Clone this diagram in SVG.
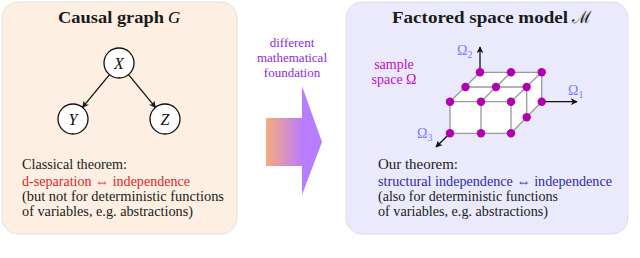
<svg xmlns="http://www.w3.org/2000/svg" width="640" height="258" viewBox="0 0 640 258">
<style>
.t{font-family:"Liberation Serif","DejaVu Serif",serif;font-size:14px;fill:#1a1a1a}
.title{font-family:"Liberation Serif","DejaVu Serif",serif;font-size:17px;font-weight:bold;fill:#1a1a1a}
.math{font-family:"Liberation Serif","DejaVu Serif",serif;font-style:italic}
.node circle{fill:#fff;stroke:#111;stroke-width:1.3}
.node text{font-family:"Liberation Serif","DejaVu Serif",serif;font-style:italic;font-size:16px;fill:#111;text-anchor:middle}
.edge{stroke:#111;stroke-width:1.3;fill:none}
.grid{stroke:#9a9a9a;stroke-width:1.3;fill:none}
.dot{fill:#b000b0}
.om{font-family:"Liberation Serif","DejaVu Serif",serif;font-size:14px;fill:#7a7aff}
</style>
<defs>
<marker id="ah" viewBox="0 0 10 10" refX="9" refY="5" markerWidth="7" markerHeight="7" markerUnits="userSpaceOnUse" orient="auto">
<path d="M0,0 L10,5 L0,10 L3,5 z" fill="#111"/>
</marker>
<linearGradient id="grad" x1="0" y1="0" x2="1" y2="0">
<stop offset="0" stop-color="#f8aa7c"/>
<stop offset="1" stop-color="#b87cff"/>
</linearGradient>
</defs>

<g id="panel-left">
<rect x="2" y="2" width="235" height="232" rx="16" fill="#fdf0e2" stroke="#e4e0dc" stroke-width="1"/>
<text class="title" x="58" y="23" textLength="106" lengthAdjust="spacingAndGlyphs">Causal graph</text>
<text class="math" x="168" y="23" font-size="17">G</text>
<text class="t" x="22" y="169" textLength="105" lengthAdjust="spacingAndGlyphs">Classical theorem:</text>
<text class="t" x="22" y="186" fill="#e3242b" style="fill:#e3242b" textLength="168" lengthAdjust="spacingAndGlyphs">d-separation ⇔ independence</text>
<text class="t" x="22" y="201" textLength="202" lengthAdjust="spacingAndGlyphs">(but not for deterministic functions</text>
<text class="t" x="22" y="216" textLength="171" lengthAdjust="spacingAndGlyphs">of variables, e.g. abstractions)</text>
</g>

<g id="connectors">
<line class="edge" x1="109.5" y1="74.6" x2="82.5" y2="107.4" marker-end="url(#ah)"/>
<line class="edge" x1="128.5" y1="74.6" x2="155.5" y2="107.4" marker-end="url(#ah)"/>
</g>

<g id="node-X" class="node"><circle cx="119" cy="63" r="15"/><text x="119" y="69">X</text></g>
<g id="node-Y" class="node"><circle cx="73" cy="119" r="15"/><text x="73" y="125">Y</text></g>
<g id="node-Z" class="node"><circle cx="165" cy="119" r="15"/><text x="165" y="125">Z</text></g>

<g id="middle-arrow">
<text font-family="Liberation Serif, DejaVu Serif, serif" font-size="13" fill="#8a2be2" text-anchor="middle"><tspan x="292" y="47">different</tspan><tspan x="292" y="62">mathematical</tspan><tspan x="292" y="77">foundation</tspan></text>
<rect x="266" y="118" width="37" height="48" fill="url(#grad)"/>
<path d="M302,86 L322,142 L302,195 z" fill="#b87cff"/>
</g>

<g id="panel-right">
<rect x="346" y="2" width="282" height="232" rx="16" fill="#eaeafc" stroke="#dcdce8" stroke-width="1"/>
<text class="title" x="392" y="23" textLength="176" lengthAdjust="spacingAndGlyphs">Factored space model</text>
<text x="572" y="23" font-family="DejaVu Serif, serif" font-size="17" fill="#1a1a1a">ℳ</text>
<text font-family="Liberation Serif, DejaVu Serif, serif" font-size="14" fill="#c010c0" text-anchor="middle"><tspan x="394" y="69">sample</tspan><tspan x="394" y="84">space Ω</tspan></text>
<text class="t" x="378" y="169" textLength="80" lengthAdjust="spacingAndGlyphs">Our theorem:</text>
<text class="t" x="378" y="186" style="fill:#2b2ba8" textLength="234" lengthAdjust="spacingAndGlyphs">structural independence ⇔ independence</text>
<text class="t" x="378" y="201" textLength="180" lengthAdjust="spacingAndGlyphs">(also for deterministic functions</text>
<text class="t" x="378" y="216" textLength="170" lengthAdjust="spacingAndGlyphs">of variables, e.g. abstractions)</text>
</g>

<g id="cube">
<path d="M450,101.7 L480,72.3 L541.7,72.3 L541.7,101.7 L511,133.3 L450,133.3 z" fill="#fff"/>
<path class="grid" d="M480,72.3 H541.7 M465,87 H526.7 M450,101.7 H511 M480,72.3 L450,101.7 M511,72.3 L481,101.7 M541.7,72.3 L511,101.7 M450,101.7 V133.3 M481,101.7 V133.3 M511,101.7 V133.3 M450,133.3 H511 M541.7,72.3 V101.7 L511,133.3 M526.7,87 V117.3"/>
<line class="edge" x1="480" y1="72.3" x2="480" y2="47" marker-end="url(#ah)"/>
<line class="edge" x1="541.7" y1="101.7" x2="577" y2="101.7" marker-end="url(#ah)"/>
<line class="edge" x1="450" y1="133.3" x2="436" y2="147" marker-end="url(#ah)"/>
<g class="dot">
<circle cx="480" cy="72.3" r="4.2"/><circle cx="511" cy="72.3" r="4.2"/><circle cx="541.7" cy="72.3" r="4.2"/>
<circle cx="465.5" cy="87" r="4.2"/><circle cx="496" cy="87" r="4.2"/><circle cx="526.7" cy="87" r="4.2"/>
<circle cx="450" cy="101.7" r="4.2"/><circle cx="481" cy="101.7" r="4.2"/><circle cx="511" cy="101.7" r="4.2"/><circle cx="541.7" cy="101.7" r="4.2"/>
<circle cx="526.7" cy="117.3" r="4.2"/>
<circle cx="450" cy="133.3" r="4.2"/><circle cx="481" cy="133.3" r="4.2"/><circle cx="511" cy="133.3" r="4.2"/>
</g>
<text class="om" x="457" y="55">Ω<tspan font-size="10" dy="3">2</tspan></text>
<text class="om" x="568" y="95">Ω<tspan font-size="10" dy="3">1</tspan></text>
<text class="om" x="417" y="138">Ω<tspan font-size="10" dy="3">3</tspan></text>
</g>
</svg>
